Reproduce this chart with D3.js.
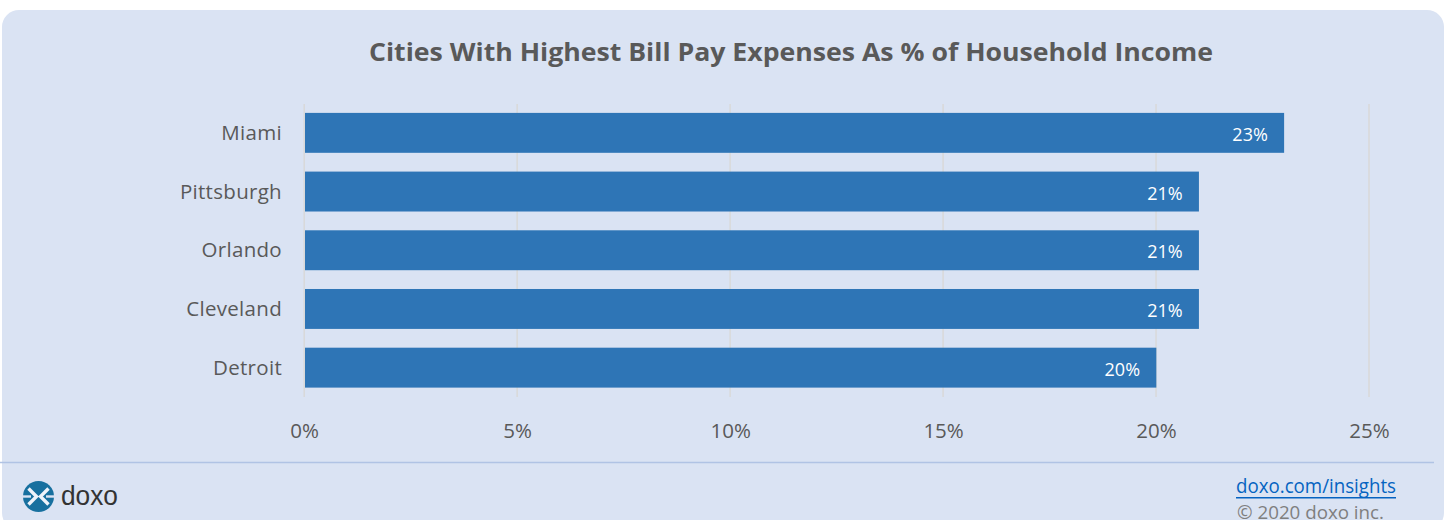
<!DOCTYPE html>
<html>
<head>
<meta charset="utf-8">
<script src="https://cdnjs.cloudflare.com/ajax/libs/d3/7.8.5/d3.min.js"></script>
<style>
html,body{margin:0;padding:0;background:#fff;}
svg{display:block;}
text{font-family:"Open Sans",sans-serif;}
</style>
</head>
<body>
<svg id="chart" width="1450" height="520"></svg>
<script>
const chartTitle = "Cities With Highest Bill Pay Expenses As % of Household Income";
const cities = ["Miami", "Pittsburgh", "Orlando", "Cleveland", "Detroit"];
const shares = [23, 21, 21, 21, 20];
const axisTicks = [0, 5, 10, 15, 20, 25];

const svg = d3.select("#chart");

// Card background
svg.append("rect").attr("x", 2).attr("y", 10).attr("width", 1442).attr("height", 520)
  .attr("rx", 17).attr("fill", "#dae3f3");

const x = d3.scaleLinear().domain([0, 25]).range([304.2, 1369]);
const y = d3.scaleBand().domain(cities).range([103.5, 397]).paddingInner(0.32).paddingOuter(0.16);

// Title
svg.append("text").attr("x", 791).attr("y", 61).attr("text-anchor", "middle")
  .attr("font-size", 25).attr("font-weight", 700).attr("fill", "#595959")
  .attr("textLength", 844).attr("lengthAdjust", "spacingAndGlyphs").text(chartTitle);

// Vertical gridlines
svg.append("g").selectAll("line").data(axisTicks).join("line")
  .attr("x1", d => x(d)).attr("x2", d => x(d))
  .attr("y1", 104).attr("y2", 397)
  .attr("stroke", "#d9d9d9").attr("stroke-width", 1.5);

// Bars
svg.append("g").selectAll("rect").data(cities).join("rect")
  .attr("x", x(0) + 0.8)
  .attr("y", d => y(d))
  .attr("width", (d, i) => x(shares[i]) - x(0) - 0.5)
  .attr("height", y.bandwidth())
  .attr("fill", "#2e75b6");

// Value labels inside the bar ends
svg.append("g").selectAll("text").data(cities).join("text")
  .attr("x", (d, i) => x(shares[i]) - 16)
  .attr("y", d => y(d) + y.bandwidth() / 2 + 8)
  .attr("text-anchor", "end")
  .attr("font-size", 18).attr("fill", "#ffffff")
  .text((d, i) => shares[i] + "%");

// City labels
svg.append("g").selectAll("text").data(cities).join("text")
  .attr("x", 282)
  .attr("y", d => y(d) + y.bandwidth() / 2 + 7)
  .attr("text-anchor", "end")
  .attr("font-size", 20.5).attr("letter-spacing", 0.3).attr("fill", "#595959")
  .text(d => d);

// Value axis labels
const xAxis = d3.axisBottom(x).tickValues(axisTicks).tickSize(0).tickPadding(0)
  .tickFormat(d => d + "%");
const axisGroup = svg.append("g").attr("transform", "translate(0,423)").call(xAxis);
axisGroup.select(".domain").remove();
axisGroup.selectAll("text")
  .attr("font-size", 20.5).attr("fill", "#595959").style("font-family", '"Open Sans",sans-serif');

// Footer rule
svg.append("line").attr("x1", 0).attr("x2", 1434).attr("y1", 462.5).attr("y2", 462.5)
  .attr("stroke", "#b0c3e4").attr("stroke-width", 1.5);

// Brand mark: a disc with two arrows pointing inward
const mark = svg.append("g").attr("transform", "translate(38.5,496.5)");
mark.append("circle").attr("r", 15.5).attr("fill", "#17709f");
mark.append("rect").attr("x", -15.5).attr("y", -1.2).attr("width", 8).attr("height", 2.4).attr("fill", "#dae3f3");
mark.append("rect").attr("x", 7.5).attr("y", -1.2).attr("width", 8).attr("height", 2.4).attr("fill", "#dae3f3");
mark.append("path").attr("d", "M-10,-8 L-2,0 L-10,8 M10,-8 L2,0 L10,8")
  .attr("fill", "none").attr("stroke", "#eef3fa").attr("stroke-width", 3.4);
svg.append("text").attr("x", 61).attr("y", 505).attr("font-size", 27).attr("fill", "#333333")
  .style("font-family", '"Liberation Sans",sans-serif')
  .attr("textLength", 57).attr("lengthAdjust", "spacingAndGlyphs").text("doxo");

// Footer link and copyright
svg.append("text").attr("x", 1236).attr("y", 493).attr("font-size", 20).attr("fill", "#0563c1")
  .attr("textLength", 160).attr("lengthAdjust", "spacingAndGlyphs").text("doxo.com/insights");
svg.append("rect").attr("x", 1236).attr("y", 497).attr("width", 160).attr("height", 1.5).attr("fill", "#0563c1");
svg.append("text").attr("x", 1237).attr("y", 519).attr("font-size", 19).attr("fill", "#7f7f7f")
  .attr("textLength", 147).attr("lengthAdjust", "spacingAndGlyphs").text("© 2020 doxo inc.");
</script>
</body>
</html>
